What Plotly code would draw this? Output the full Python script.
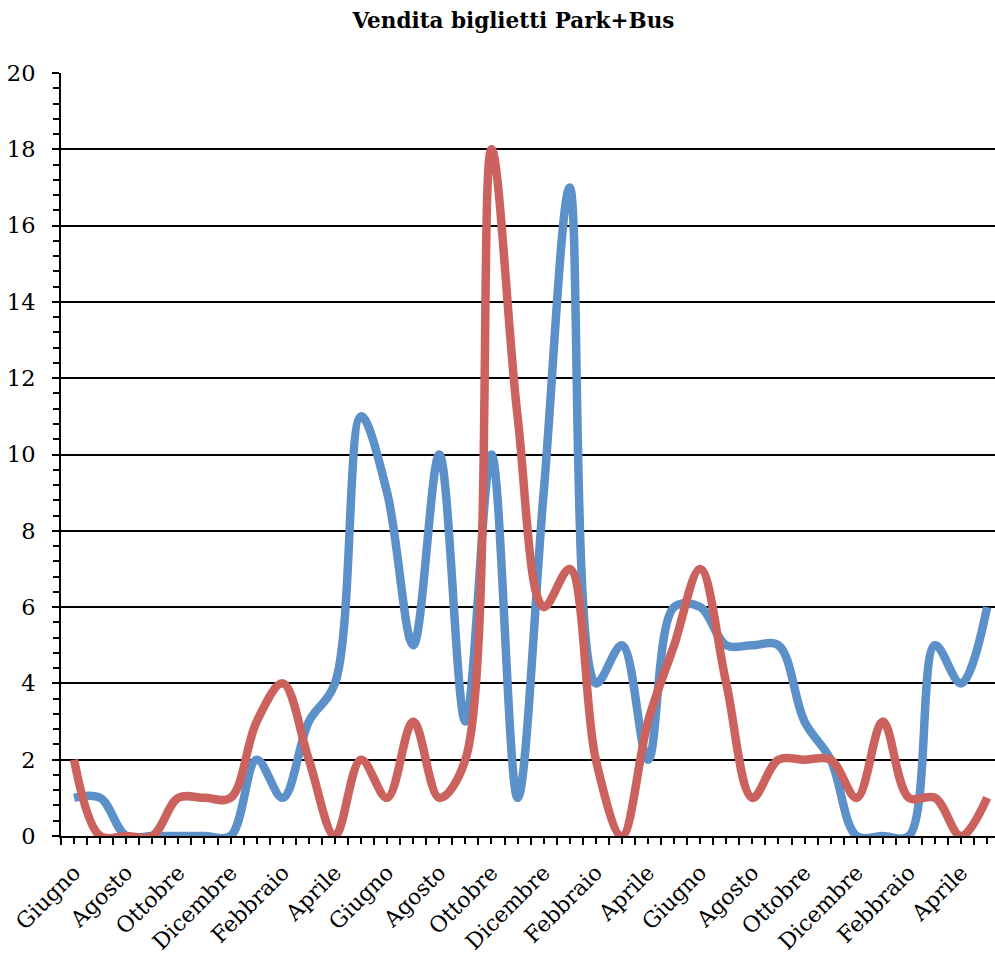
import plotly.graph_objects as go

title_text = "Vendita biglietti Park+Bus"
months = ["Giugno", "Luglio", "Agosto", "Settembre", "Ottobre", "Novembre",
          "Dicembre", "Gennaio", "Febbraio", "Marzo", "Aprile", "Maggio"]
categories = [months[i % 12] for i in range(36)]
serie_blu = [1, 1, 0, 0, 0, 0, 0, 2, 1, 3, 4, 11, 9, 5, 10, 3, 10, 1, 9, 17, 4, 5, 2, 6,
             6, 5, 5, 5, 3, 2, 0, 0, 0, 5, 4, 6]
serie_rossa = [2, 0, 0, 0, 1, 1, 1, 3, 4, 2, 0, 2, 1, 3, 1, 2, 18, 11, 6, 7, 2, 0, 3, 5,
               7, 4, 1, 2, 2, 2, 1, 3, 1, 1, 0, 1]

x = list(range(len(categories)))
ticktext = [c if i % 2 == 0 else "" for i, c in enumerate(categories)]
FONT = "DejaVu Serif"

fig = go.Figure()
fig.add_trace(go.Scatter(x=x, y=serie_blu, mode="lines",
                         line=dict(color="#5B90C8", width=8.5, shape="spline", smoothing=1.0),
                         showlegend=False, hoverinfo="skip"))
fig.add_trace(go.Scatter(x=x, y=serie_rossa, mode="lines",
                         line=dict(color="#CC625E", width=8.5, shape="spline", smoothing=1.0),
                         showlegend=False, hoverinfo="skip"))

xrange = [-0.5, 35.3]
yrange = [0, 20]

fig.update_layout(
    width=995, height=954,
    margin=dict(l=61, r=0, t=73, b=114),
    paper_bgcolor="white", plot_bgcolor="white",
    hovermode=False,
    font=dict(family=FONT, color="black", size=20),
    title=dict(text="<b>" + title_text + "</b>", x=0.516, xanchor="center",
               y=1 - 20 / 954, yanchor="middle", font=dict(family=FONT, size=21.5, color="black")),
    xaxis=dict(range=xrange, tickmode="array", tickvals=x, ticktext=ticktext,
               tickangle=-45, tickfont=dict(family=FONT, size=22, color="black"),
               ticks="outside", ticklen=6, tickwidth=2, tickcolor="black",
               ticklabelstandoff=7,
               minor=dict(tickvals=[i + 0.5 for i in range(-1, 36)], ticks="outside",
                          ticklen=7, tickwidth=2, tickcolor="black", showgrid=False),
               showline=True, linecolor="black", linewidth=2,
               showgrid=False, zeroline=False, layer="below traces", fixedrange=True),
    xaxis2=dict(range=xrange, overlaying="x", anchor="y", tickmode="array", tickvals=x,
                ticks="inside", ticklen=6, tickwidth=2, tickcolor="black",
                showticklabels=False, showline=False, showgrid=False, zeroline=False,
                layer="below traces"),
    yaxis=dict(range=yrange, tickmode="linear", tick0=0, dtick=2,
               tickfont=dict(family=FONT, size=22.5, color="black"),
               ticks="outside", ticklen=7, tickwidth=2, tickcolor="black",
               ticklabelstandoff=12,
               minor=dict(dtick=0.4, tick0=0, ticks="outside", ticklen=6, tickwidth=2,
                          tickcolor="black", showgrid=False),
               showline=True, linecolor="black", linewidth=2,
               showgrid=True, gridcolor="black", gridwidth=2,
               zeroline=False, layer="below traces", fixedrange=True),
    yaxis2=dict(range=yrange, overlaying="y", anchor="x", side="left",
                tickmode="linear", tick0=0, dtick=2,
                ticks="inside", ticklen=6, tickwidth=2, tickcolor="black",
                minor=dict(dtick=0.4, tick0=0, ticks="inside", ticklen=6, tickwidth=2,
                           tickcolor="black", showgrid=False),
                showticklabels=False, showline=False, showgrid=False, zeroline=False,
                layer="below traces"),
)

fig.write_html("out.html", config={"displayModeBar": False, "staticPlot": True},
               post_script="document.body.style.margin='0';document.body.style.overflow='hidden';")
